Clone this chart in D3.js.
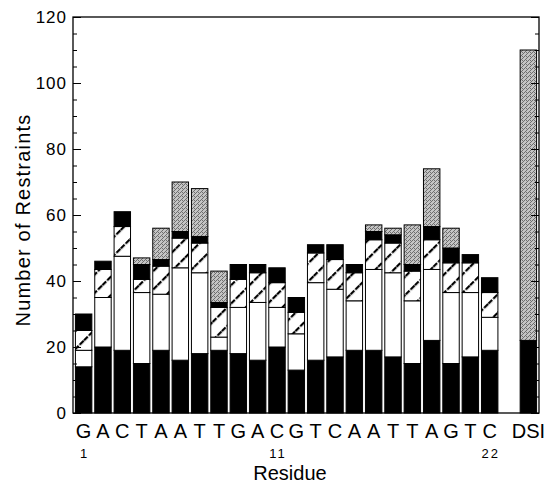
<!DOCTYPE html>
<html>
<head>
<meta charset="utf-8">
<script src="https://cdn.jsdelivr.net/npm/d3@7"></script>
<style>
  html, body { margin: 0; padding: 0; background: #fff; }
  svg { display: block; }
  text { font-family: "Liberation Sans", Arial, Helvetica, sans-serif; fill: #000; }
</style>
</head>
<body>
<svg id="chart" width="555" height="484"></svg>
<script>
// ---- data ----
const categories = ["1","2","3","4","5","6","7","8","9","10","11","12","13","14","15","16","17","18","19","20","21","22","DSI"];
const residues   = ["G","A","C","T","A","A","T","T","G","A","C","G","T","C","A","A","T","T","A","G","T","C","DSI"];
const numberLabels = { "1": "1", "11": "11", "22": "22" };
const blackLower = [14,20,19,15,19,16,18,19,18,16,20,13,16,17,19,19,17,15,22,15,17,19,22];
const white      = [5,15,28.5,21.5,17,28,24.5,4,14,17.5,12,11,23.5,20.5,15,24.5,25.5,19,21.5,21.5,19.5,10,0];
const hatched    = [6,8.5,9,4,8.5,9,9,9,8.5,9,7.5,6.5,9,9,8.5,9,9,9,9,9,9,7.5,0];
const blackUpper = [5,2.5,4.5,4.5,2,2,2,1.5,4.5,2.5,4.5,4.5,2.5,4.5,2.5,2.5,2.5,2,4,4.5,2.5,4.5,0];
const gray       = [0,0,0,2,9.5,15,14.5,9.5,0,0,0,0,0,0,0,2,2,12,17.5,6,0,0,88];
const yMajorTicks = [0,20,40,60,80,100,120];

const seriesKeys = ["blackLower","white","hatched","blackUpper","gray"];
const table = categories.map((c, i) => ({
  cat: c, blackLower: blackLower[i], white: white[i], hatched: hatched[i],
  blackUpper: blackUpper[i], gray: gray[i]
}));

// ---- layout ----
const svg = d3.select("#chart");
const mLeft = 73, mRight = 539, mTop = 17, mBottom = 413;
const domainSlots = categories.slice(0, 22).concat(["gap", "DSI"]);

const x = d3.scaleBand().domain(domainSlots).range([mLeft, mRight])
  .paddingInner(0.15).paddingOuter(0.125);
const y = d3.scaleLinear().domain([0, 120]).range([mBottom, mTop]);

// patterns
const defs = svg.append("defs");
const hatch = defs.append("pattern").attr("id", "hatch")
  .attr("patternUnits", "userSpaceOnUse").attr("width", 13).attr("height", 13)
  .attr("patternTransform", "rotate(45)");
hatch.append("rect").attr("width", 13).attr("height", 13).attr("fill", "#fff");
hatch.append("line").attr("x1", 1).attr("y1", 0).attr("x2", 1).attr("y2", 13)
  .attr("stroke", "#000").attr("stroke-width", 2.4).attr("stroke-dasharray", "5.5,1.5");

const stip = defs.append("pattern").attr("id", "stipple")
  .attr("patternUnits", "userSpaceOnUse").attr("width", 4).attr("height", 4);
stip.append("rect").attr("width", 4).attr("height", 4).attr("fill", "#c4c4c4");
[[0,0],[2,2],[2,0],[1,3],[3,1]].forEach(([a,b]) => {
  stip.append("rect").attr("x", a).attr("y", b).attr("width", 1).attr("height", 1).attr("fill", "#6e6e6e");
});

const fills = {
  blackLower: "#000", white: "#fff", hatched: "url(#hatch)",
  blackUpper: "#000", gray: "url(#stipple)"
};

// ---- bars ----
const stack = d3.stack().keys(seriesKeys);
const stacked = stack(table);

const gBars = svg.append("g");
stacked.forEach(layer => {
  gBars.append("g").selectAll("rect")
    .data(layer.filter(d => d[1] - d[0] > 0))
    .join("rect")
    .attr("x", d => x(d.data.cat))
    .attr("width", x.bandwidth())
    .attr("y", d => y(d[1]))
    .attr("height", d => y(d[0]) - y(d[1]))
    .attr("fill", fills[layer.key])
    .attr("stroke", "#000")
    .attr("stroke-width", 1);
});

// ---- axes ----
const minorTicks = d3.range(0, 121, 5);
const yLeftMinor = d3.axisLeft(y).tickValues(minorTicks).tickSizeInner(-4).tickSizeOuter(0).tickFormat("");
const yLeftMajor = d3.axisLeft(y).tickValues(yMajorTicks).tickSizeInner(-8).tickSizeOuter(0).tickPadding(6).tickFormat(d3.format("d"));
const yRightMinor = d3.axisRight(y).tickValues(minorTicks).tickSizeInner(-4).tickSizeOuter(0).tickFormat("");
const yRightMajor = d3.axisRight(y).tickValues(yMajorTicks).tickSizeInner(-8).tickSizeOuter(0).tickFormat("");

const gl1 = svg.append("g").attr("transform", `translate(${mLeft},0)`).call(yLeftMinor);
const gl2 = svg.append("g").attr("transform", `translate(${mLeft},0)`).call(yLeftMajor);
const gr1 = svg.append("g").attr("transform", `translate(${mRight},0)`).call(yRightMinor);
const gr2 = svg.append("g").attr("transform", `translate(${mRight},0)`).call(yRightMajor);
[gl1, gl2, gr1, gr2].forEach(g => {
  g.select(".domain").remove();
  g.selectAll("line").attr("stroke", "#000").attr("stroke-width", 1);
});
gl2.selectAll("text").attr("font-size", 17).attr("letter-spacing", "1px")
  .attr("font-family", "'Liberation Sans', Arial, sans-serif").attr("fill", "#000");

// frame
svg.append("rect").attr("x", mLeft).attr("y", mTop)
  .attr("width", mRight - mLeft).attr("height", mBottom - mTop)
  .attr("fill", "none").attr("stroke", "#000").attr("stroke-width", 1.3);

// ---- x labels ----
const xLab = svg.append("g");
categories.forEach((c, i) => {
  xLab.append("text")
    .attr("x", x(c) + x.bandwidth() / 2)
    .attr("y", 438)
    .attr("text-anchor", "middle")
    .attr("font-size", 20)
    .text(residues[i]);
  if (numberLabels[c]) {
    xLab.append("text")
      .attr("x", x(c) + x.bandwidth() / 2 + 1)
      .attr("y", 458)
      .attr("text-anchor", "middle")
      .attr("font-size", 13)
      .attr("letter-spacing", "2px")
      .text(numberLabels[c]);
  }
});

svg.append("text").attr("x", 290).attr("y", 480)
  .attr("text-anchor", "middle").attr("font-size", 20).text("Residue");

svg.append("text")
  .attr("transform", "translate(30,220) rotate(-90)")
  .attr("text-anchor", "middle").attr("font-size", 20).attr("letter-spacing", "1.2px")
  .text("Number of Restraints");
</script>
</body>
</html>
